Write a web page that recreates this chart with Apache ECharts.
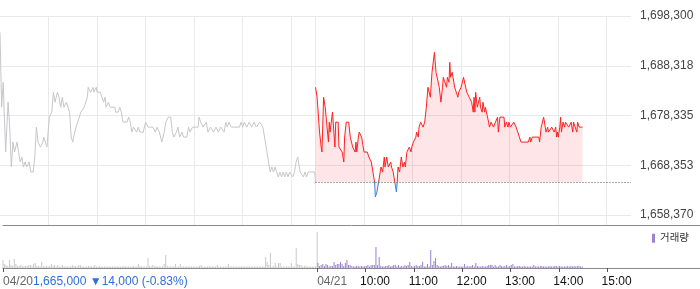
<!DOCTYPE html>
<html><head><meta charset="utf-8">
<script src="https://cdn.jsdelivr.net/npm/echarts@6/dist/echarts.min.js"></script>
<style>html,body{margin:0;padding:0;background:#fff}#c{width:700px;height:289px}</style>
</head><body><div id="c"></div>
<script>
// ---------- data ----------
const prevDate = '04/20';
const todayDate = '04/21';
const prevClose = 1665000;
const prevCloseText = '1,665,000';
const prevChangeText = '▼14,000 (-0.83%)';
const hourLabels = ['10:00', '11:00', '12:00', '13:00', '14:00', '15:00'];
const yMin = 1658370;
const yMax = 1698300;
const ySplits = 4;
const sessionMinutes = 390;

// previous day (minutes since 09:00, price)
const prevMinutes = [0,2,4,5,7,8,10,12,14,16,18,21,23,25,27,29,31,33,36,38,41,43,45,47,49,50,53,54,56,58,61,64,66,68,71,73,75,77,79,82,84,86,88,90,91,94,96,98,100,102,104,106,108,109,112,115,116,119,120,124,126,128,130,131,134,136,138,142,143,146,148,150,152,157,159,161,163,165,169,171,173,177,180,183,185,189,192,194,197,200,203,205,208,211,213,215,218,220,222,225,227,231,233,235,238,241,243,245,246,248,249,251,253,255,257,260,264,267,270,273,275,277,279,281,283,286,288,296,298,300,302,305,308,311,314,317,321,323,325,328,330,332,334,336,338,340,342,344,346,348,350,352,354,356,358,362,364,366,368,370,371,373,375,377,379,381,385,389,390];
const prevPrices = [1695000,1680000,1685000,1680000,1671000,1671000,1681000,1676000,1668000,1673000,1671000,1673000,1671000,1669000,1670000,1668000,1669000,1668000,1669000,1667000,1667000,1670000,1676000,1673000,1673000,1672000,1673000,1674000,1673000,1672000,1678000,1679000,1683000,1681000,1683000,1682000,1680000,1682000,1680000,1681000,1680000,1679000,1674000,1673000,1674000,1676000,1677000,1678000,1679000,1679000,1680000,1680000,1682000,1684000,1683000,1684000,1683000,1684000,1683000,1683000,1683000,1681000,1682000,1680000,1681000,1680000,1680000,1680000,1679000,1679000,1680000,1679000,1677000,1677000,1678000,1677000,1675000,1676000,1675000,1676000,1675000,1675000,1677000,1676000,1676000,1676000,1675000,1676000,1675000,1673000,1675000,1677000,1678000,1678000,1675000,1674000,1675000,1676000,1674000,1675000,1674000,1674000,1676000,1675000,1676000,1676000,1676000,1676000,1678000,1677000,1677000,1676000,1676000,1677000,1675000,1676000,1675000,1676000,1675000,1676000,1676000,1675000,1677000,1676000,1677000,1676000,1676000,1676000,1677000,1676000,1677000,1676000,1677000,1676000,1677000,1676000,1677000,1677000,1676000,1673000,1671000,1669000,1667000,1668000,1667000,1668000,1667000,1666000,1667000,1666000,1667000,1666000,1667000,1666000,1667000,1666000,1667000,1669000,1670000,1668000,1667000,1667000,1666000,1667000,1666000,1667000,1667000,1667000,1665000];

// today (minutes since 09:00, price)
const todayMinutes = [0,2,5,7,8,10,12,14,16,17,18,21,24,25,28,29,33,35,36,38,41,43,46,49,50,51,53,54,57,60,64,66,69,71,73,74,76,78,80,81,83,85,86,88,90,93,94,96,98,99,100,101,102,104,106,108,110,111,113,116,118,119,121,124,125,127,128,130,133,135,137,139,142,144,147,149,153,155,157,158,162,163,165,166,167,169,171,172,176,177,180,183,187,190,193,195,196,197,198,200,203,204,206,207,209,210,214,215,217,220,225,226,228,233,234,236,238,239,241,245,248,250,252,254,263,265,266,268,276,277,279,282,284,285,287,288,292,295,297,298,299,300,302,303,304,306,308,309,313,316,318,319,323,324,326,330];
const todayPrices = [1684000,1682000,1675000,1672000,1671000,1682000,1680000,1680000,1673000,1677000,1675000,1679000,1672000,1677000,1677000,1672000,1671000,1669000,1674000,1677000,1677000,1674000,1672000,1671000,1673000,1671000,1674000,1675000,1674000,1671000,1671000,1670000,1669000,1667000,1665000,1662000,1663000,1665000,1667000,1668000,1667000,1670000,1668000,1670000,1668000,1669000,1668000,1667000,1665000,1664000,1663000,1665000,1668000,1667000,1670000,1668000,1669000,1668000,1671000,1672000,1671000,1672000,1673000,1674000,1675000,1674000,1676000,1677000,1676000,1677000,1680000,1684000,1682000,1687000,1691000,1687000,1684000,1681000,1684000,1686000,1684000,1686000,1685000,1689000,1686000,1687000,1685000,1684000,1682000,1683000,1684000,1686000,1683000,1682000,1681000,1679000,1682000,1679000,1683000,1680000,1682000,1680000,1679000,1681000,1679000,1680000,1677000,1676000,1677000,1676000,1678000,1675000,1678000,1678000,1676000,1677000,1676000,1677000,1676000,1677000,1676000,1675000,1674000,1673000,1673000,1674000,1673000,1674000,1674000,1673000,1676000,1678000,1676000,1675000,1676000,1675000,1676000,1675000,1676000,1674000,1675000,1674000,1676000,1678000,1675000,1677000,1676000,1677000,1676000,1677000,1675000,1677000,1675000,1677000,1676000,1676000];

// volume per 2-minute bucket
const prevVolume = [8,4,3,2,8,3,2,9,4,2, 2,3,2,2,2,2,3,3,2,4, 5,2,2,1.5,6,2,1.5,2,1.5,2, 4,2,3,1.5,3,1.5,1.5,3,1.5,1.5, 1.5,1.5,1.5,3,2,2,1.5,3,3,1.5, 1.5,1.5,1.5,2,1.5,2,1.5,3,1.5,1.5, 2,1.5,1.5,1.5,1.5,1.5,1.5,1.5,1.5,1.5, 1.5,1.5,1.5,1.5,1.5,2,1.5,1.5,1.5,1.5, 1.5,2,1.5,1.5,4,2,1.5,1.5,1.5,1.5, 10,2,1.5,3,1.5,2,1.5,1.5,1.5,1.5, 4,13,2,1.5,1.5,1.5,1.5,4,1.5,1.5, 4,1.5,1.5,1.5,1.5,1.5,1.5,1.5,1.5,1.5, 1.5,1.5,2,3,1.5,1.5,1.5,1.5,2,1.5, 1.5,1.5,1.5,3,1.5,1.5,1.5,1.5,1.5,1.5, 4,1.5,1.5,1.5,1.5,1.5,1.5,1.5,1.5,1.5, 1.5,1.5,1.5,1.5,1.5,1.5,1.5,1.5,1.5,1.5, 1.5,1.5,1.5,11,6,3,15,1.5,2,5, 1.5,5,5,1.5,1.5,1.5,1.5,1.5,1.5,5, 1.5,1.5,20,4,3,3,1.5,2,2,1.5, 1.5,1.5,1.5,1.5,1.5,36];
const todayVolume = [5,2,3,4,2,4,3,1.5,2,2, 6,3,4,4,6,4,2,5,8,3, 3,2,1.5,1.5,2,2,1.5,2,1.5,2, 2,3,1.5,3,3,3,21,3,11,2, 1.5,1.5,2,2,3,1.5,2,3,3,1.5, 3,1.5,2,1.5,3,2,3,6,2,1.5, 2,3,2,2,3,6,1.5,1.5,4,1.5, 18,3,7,10,3,2,1.5,2,2.3,3, 2,3,1.5,5,1.5,1.5,2,1.5,1.5,1.5, 1.5,4,1.5,2,1.5,2,3,1.5,5,2, 1.5,1.5,2,1.5,1.5,2,3,3,3,1.5, 3,1.5,1.5,3,2,1.5,2,3,1.5,2, 3,4,1.5,1.5,2,2,1.5,1.5,2,1.5, 1.5,1.5,1.5,1.5,3,1.5,1.5,1.5,2,2, 1.5,1.5,1.5,1.5,2,1.5,1.5,2,2,1.5, 2,1.5,1.5,1.5,1.5,2,1.5,2,1.5,2, 1.5,2,2,1.5,1.5];

// ---------- chart ----------
const FONT = "'Liberation Sans', Arial, 'Noto Sans CJK KR', sans-serif";
const GRID = '#e9e9e9';
const RED = '#ff2020';
const BLUE = '#3c7fe0';
const MAIN_W = 631, CHART_W = 700;
const yStep = (yMax - yMin) / ySplits;
const xTotal = sessionMinutes * 2;
const volXMax = xTotal * CHART_W / MAIN_W;

const prevLine = prevMinutes.map((t, i) => [t, prevPrices[i]]);
const todayLine = todayMinutes.map((t, i) => [sessionMinutes + t, todayPrices[i]]);
const prevBars = prevVolume.map((v, i) => [2 * i, v]);
const todayBars = todayVolume.map((v, j) => [sessionMinutes + 1 + 2 * j, v]);

const xTicks = [];
for (let t = 0; t <= xTotal; t += 30) xTicks.push(t);
const showGrid = t => (t > 0 && t <= 360 && t % 60 === 0) || (t >= sessionMinutes && t < xTotal && (t - sessionMinutes) % 60 === 0);
const splitColors = xTicks.map(t => showGrid(t) ? GRID : 'rgba(0,0,0,0)');
const hourVals = hourLabels.map((h, k) => sessionMinutes + 60 * (k + 1));
const tickVals = [0, sessionMinutes].concat(hourVals);

const timeAxis = (gridIndex) => ({
  gridIndex, type: 'value', min: 0, max: xTotal, interval: 30,
  axisLine: { show: false, onZero: false }, axisTick: { show: false }, axisLabel: { show: false },
  splitLine: { show: true, lineStyle: { color: splitColors, width: 1 } }
});

const chart = echarts.init(document.getElementById('c'), null, { renderer: 'canvas' });
chart.setOption({
  animation: false,
  textStyle: { fontFamily: FONT },
  grid: [
    { left: 0, top: 16, width: MAIN_W, height: 199 },
    { left: 0, right: 0, top: 225, height: 43 },
    { left: 0, top: 215, width: MAIN_W, height: 10 }
  ],
  xAxis: [
    timeAxis(0),
    { gridIndex: 1, type: 'value', min: 0, max: volXMax, position: 'bottom',
      axisLine: { show: true, onZero: false, lineStyle: { color: '#8a8a8a', width: 1 } },
      axisTick: { show: true, customValues: tickVals, length: 4, lineStyle: { color: '#555' } },
      axisLabel: { customValues: hourVals, color: '#111', fontSize: 12, margin: 8, padding: [0, 0, 0, 19],
        formatter: v => hourLabels[Math.round((v - sessionMinutes) / 60) - 1] },
      splitLine: { show: false } },
    { gridIndex: 1, type: 'value', min: 0, max: volXMax, position: 'bottom',
      axisLine: { show: false, onZero: false }, axisTick: { show: false },
      axisLabel: { customValues: [0, sessionMinutes], align: 'left', margin: 8,
        formatter: v => v === 0 ? '{d|' + prevDate + '}{b|' + prevCloseText + ' ' + prevChangeText + '}' : '{d|' + todayDate + '}',
        rich: { d: { color: '#666', fontSize: 12, fontFamily: FONT }, b: { color: '#2f6fd8', fontSize: 12, fontFamily: FONT } } },
      splitLine: { show: false } },
    { gridIndex: 1, type: 'value', min: 0, max: volXMax, position: 'top',
      axisLine: { show: true, onZero: false, lineStyle: { color: '#8a8a8a', width: 1 } },
      axisTick: { show: false }, axisLabel: { show: false }, splitLine: { show: false } },
    timeAxis(2)
  ],
  yAxis: [
    { gridIndex: 0, type: 'value', position: 'right', min: yMin, max: yMax, interval: yStep,
      axisLine: { show: false, onZero: false }, axisTick: { show: false },
      axisLabel: { margin: 9, color: '#444', fontSize: 12,
        formatter: v => Math.round(v).toLocaleString('en-US') },
      splitLine: { show: true, lineStyle: { color: GRID, width: 1 } } },
    { gridIndex: 1, type: 'value', min: 0, max: 43, show: false },
    { gridIndex: 2, type: 'value', min: 0, max: 1, show: false }
  ],
  visualMap: [{ type: 'piecewise', show: false, seriesIndex: 1, dimension: 1,
    pieces: [
      { gte: yMin - yStep * 10, lt: prevClose, color: BLUE },
      { gte: prevClose, lte: yMax + yStep * 10, color: RED }
    ] }],
  legend: { data: ['거래량'], left: 652, top: 233, padding: 0, icon: 'rect', itemWidth: 3, itemHeight: 9,
    selectedMode: false, textStyle: { fontSize: 10.5, color: '#333' } },
  series: [
    { type: 'line', name: prevDate, xAxisIndex: 0, yAxisIndex: 0, data: prevLine, symbol: 'none',
      lineStyle: { color: '#c6c6cb', width: 1 }, itemStyle: { color: '#c6c6cb' }, silent: true },
    { type: 'line', name: todayDate, xAxisIndex: 0, yAxisIndex: 0, data: todayLine, symbol: 'none',
      lineStyle: { width: 1 }, silent: true,
      areaStyle: { color: 'rgba(245,60,80,0.13)', opacity: 1, origin: prevClose },
      markLine: { silent: true, symbol: 'none', label: { show: false },
        lineStyle: { color: '#555', type: [1, 2], width: 1 },
        data: [[{ coord: [sessionMinutes, prevClose] }, { coord: [xTotal, prevClose] }]] } },
    { type: 'bar', name: prevDate + ' 거래량', xAxisIndex: 1, yAxisIndex: 1, data: prevBars, barWidth: 1, barGap: '-100%',
      itemStyle: { color: '#c8c8c8' }, silent: true },
    { type: 'bar', name: '거래량', xAxisIndex: 1, yAxisIndex: 1, data: todayBars, barWidth: 1, barGap: '-100%',
      itemStyle: { color: '#9a82cf' }, silent: true }
  ]
});
</script>
</body></html>
